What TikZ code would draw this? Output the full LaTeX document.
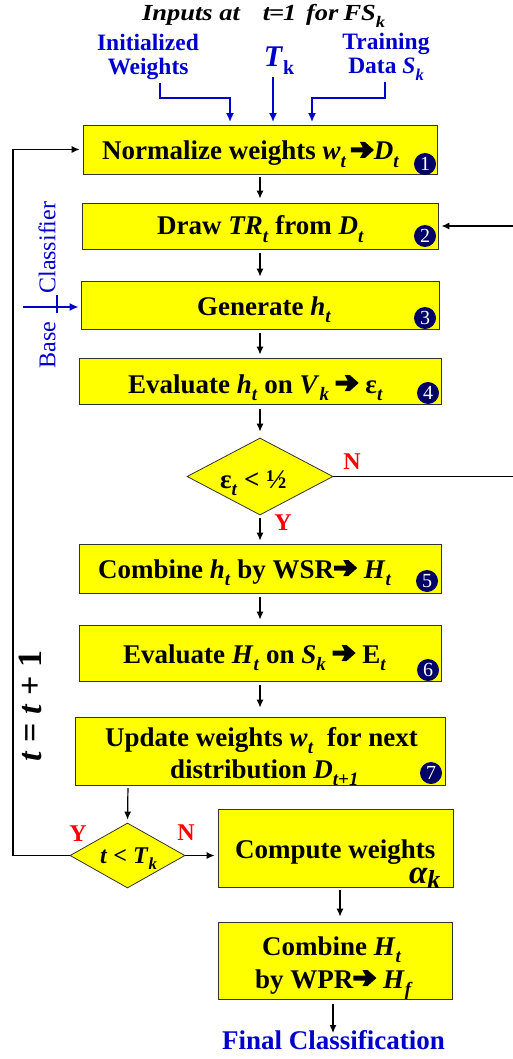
\documentclass[tikz,border=0pt]{standalone}
\usepackage{fontspec}
\setmainfont{Liberation Serif}
\usetikzlibrary{arrows.meta,shapes.geometric}
\definecolor{yel}{HTML}{FFFF00}
\definecolor{navy}{HTML}{000066}
\definecolor{myblue}{HTML}{0000CC}
\definecolor{myred}{HTML}{FF0000}
\makeatletter
\newcommand\sbb[1]{\raisebox{-0.28em}{\fontsize{\fpeval{0.7*\f@size}}{\fpeval{0.7*\f@size}}\selectfont #1}}
\makeatother
\newcommand\harr{\tikz[x=1pt,y=1pt,baseline=0pt]\fill[black] (0,7.5)--(12,7.5)--(9,2)--(14,2)--(23,10)--(14,18)--(9,18)--(12,12.5)--(0,12.5)--cycle;}
\begin{document}
\begin{tikzpicture}[x=1pt,y=-1pt,
  box/.style={draw=black!80, line width=0.8pt, fill=yel, inner sep=0pt},
  txt/.style={inner sep=0pt, anchor=base west, font=\fontsize{27}{27}\selectfont\bfseries},
  num/.style={circle, fill=navy, inner sep=0pt, minimum size=22pt, text=white,
              font=\fontsize{20}{20}\selectfont},
  arr/.style={-{Latex[length=8pt,width=7pt]}, line width=1.2pt},
  barr/.style={-{Latex[length=9pt,width=8pt]}, draw=myblue, line width=1.8pt},
  yn/.style={text=myred, font=\fontsize{24}{24}\selectfont\bfseries},
  dia/.style={diamond, draw=black!80, fill=yel, inner sep=0pt, line width=0.8pt},
  bluelbl/.style={text=myblue, align=center, font=\fontsize{23.5}{24}\selectfont\bfseries}]
\useasboundingbox (0,0) rectangle (513,1059);

% title and inputs
\node[inner sep=0pt, anchor=base west, font=\fontsize{23}{23}\selectfont\bfseries\itshape] (title) at (142,21)
  {\scalebox{1.15}[1]{Inputs at\hspace{20pt}t\kern-1pt=\kern-1pt1\hspace{8.5pt}for\hspace{4.5pt}FS\sbb{k}}};
\node[bluelbl] (initw) at (148,57) {Initialized\\Weights};
\node[text=myblue, font=\fontsize{30}{30}\selectfont\bfseries] (tk) at (279,61) {\textit{T}\raisebox{-8pt}{\fontsize{20}{20}\selectfont k}};
\node[bluelbl] (train) at (386,57) {Training\\Data \textit{S}\sbb{\textit{k}}};

% boxes
\node[box, minimum width=354pt, minimum height=49pt] (b1) at (260,149.5) {};
\node[box, minimum width=356pt, minimum height=46pt] (b2) at (260,226) {};
\node[box, minimum width=358pt, minimum height=48pt] (b3) at (260,305) {};
\node[box, minimum width=362pt, minimum height=46pt] (b4) at (260,381) {};
\node[dia, minimum width=146pt, minimum height=77pt] (d1) at (260,476.5) {};
\node[box, minimum width=362pt, minimum height=49pt] (b5) at (260,568.5) {};
\node[box, minimum width=362pt, minimum height=56pt] (b6) at (260,653) {};
\node[box, minimum width=370pt, minimum height=68pt] (b7) at (260,751) {};
\node[dia, minimum width=115pt, minimum height=65pt] (d2) at (127.5,855.5) {};
\node[box, minimum width=235pt, minimum height=78pt] (b8) at (335.5,848) {};
\node[box, minimum width=234pt, minimum height=77pt] (b9) at (335,960.5) {};

% box texts
\node[txt] (t1) at (102,160) {Normalize weights \textit{w}\sbb{\textit{t}}\,\harr\textit{D}\sbb{\textit{t}}};
\node[txt] (t2) at (157,235) {Draw \textit{TR}\sbb{\textit{t}} from \textit{D}\sbb{\textit{t}}};
\node[txt] (t3) at (197,315) {Generate \textit{h}\sbb{\textit{t}}};
\node[txt] (t4) at (128,393) {Evaluate \textit{h}\sbb{\textit{t}} on \textit{V}\sbb{\textit{k}} \harr{} ε\sbb{\textit{t}}};
\node[txt] (td1) at (220,488) {ε\sbb{\textit{t}} < ½};
\node[txt] (t5) at (98,578) {Combine \textit{h}\sbb{\textit{t}} by WSR\harr{} \textit{H}\sbb{\textit{t}}};
\node[txt] (t6) at (123,663) {Evaluate \textit{H}\sbb{\textit{t}} on \textit{S}\sbb{\textit{k}} \harr{} E\sbb{\textit{t}}};
\node[txt] (t7a) at (105,746) {Update weights \textit{w}\sbb{\textit{t}}\ \ for next};
\node[txt] (t7b) at (170,778) {distribution \textit{D}\sbb{\textit{t+1}}};
\node[txt, font=\fontsize{24}{24}\selectfont\bfseries] (td2) at (100,863) {\textit{t} < \textit{T}\sbb{\textit{k}}};
\node[txt] (t8) at (235,858) {Compute weights};
\node[txt, font=\fontsize{33}{33}\selectfont\bfseries\itshape] (t8a) at (409,883) {α\raisebox{-5pt}{\fontsize{26}{26}\selectfont k}};
\node[txt] (t9a) at (262,955) {Combine \textit{H}\sbb{\textit{t}}};
\node[txt] (t9b) at (255,988) {by WPR\harr{} \textit{H}\sbb{\textit{f}}};
\node[txt, text=myblue] (fc) at (222,1049) {Final Classification};

% number badges
\node[num] (n1) at (425,164) {1};
\node[num] (n2) at (425,236) {2};
\node[num] (n3) at (425,318) {3};
\node[num] (n4) at (428,393) {4};
\node[num] (n5) at (427,581) {5};
\node[num] (n6) at (428,670) {6};
\node[num] (n7) at (431,773) {7};

% Y / N labels
\node[yn] (n1lbl) at (352,462) {N};
\node[yn] (y1lbl) at (283,523) {Y};
\node[yn] (y2lbl) at (78,834) {Y};
\node[yn] (n2lbl) at (186,833) {N};

% side labels
\node[rotate=90, text=myblue, font=\fontsize{24}{24}\selectfont] (bc) at (47,285)
  {Base\hspace{28pt}Classifier};
\node[rotate=90, font=\fontsize{34}{34}\selectfont\bfseries] (inc) at (30,706)
  {\textit{t} = \textit{t} + 1};

% input arrows
\coordinate (ia) at (160,83);
\coordinate (ib) at (230,98);
\coordinate (ta) at (273,77);
\coordinate (sa) at (385,82);
\coordinate (sb) at (312,98);
\draw[barr, shorten >=2.5pt] (ia) |- (ib) -- (ib |- b1.north);
\draw[barr, shorten >=2.5pt] (ta) -- (ta |- b1.north);
\draw[barr, shorten >=2.5pt] (sa) |- (sb) -- (sb |- b1.north);

% main flow
\draw[arr, shorten <=3pt, shorten >=4pt] (b1.south) -- (b2.north);
\draw[arr, shorten <=4pt, shorten >=4pt] (b2.south) -- (b3.north);
\draw[arr, shorten <=4pt, shorten >=3pt] (b3.south) -- (b4.north);
\draw[arr, shorten <=5pt, shorten >=6pt] (b4.south) -- (d1.north);
\draw[arr, shorten <=3pt, shorten >=3pt] (d1.south) -- (b5.north);
\draw[arr, shorten <=4pt, shorten >=5pt] (b5.south) -- (b6.north);
\draw[arr, shorten <=4pt, shorten >=9pt] (b6.south) -- (b7.north);
\coordinate (b7x) at (128,785);
\draw[arr, shorten <=3pt, shorten >=3pt] (b7x) -- (d2.north);
\draw[arr, shorten >=3pt] (d2.east) -- (d2.east -| b8.west);
\coordinate (b8x) at (340,887);
\draw[arr, shorten <=3pt, shorten >=5pt] (b8x) -- (b8x |- b9.north);
\coordinate (fcx) at (333,1033);
\draw[arr, shorten <=5pt] (b9.south -| fcx) -- (fcx);

% loops
\coordinate (ll) at (13,855.5);
\draw[arr, shorten >=3pt] (d2.west) -- (ll) |- (b1.west);
\coordinate (rr) at (518,476.5);
\draw[arr, shorten >=3pt] (d1.east) -- (rr) |- (b2.east);

% base classifier arrow
\coordinate (bca) at (23,307);
\draw[barr, line width=1.6pt, shorten >=2pt] (bca) -- (bca -| b3.west);
\coordinate (bv1) at (57,295);
\coordinate (bv2) at (57,313);
\draw[myblue, line width=1.6pt] (bv1) -- (bv2);
\end{tikzpicture}
\end{document}
